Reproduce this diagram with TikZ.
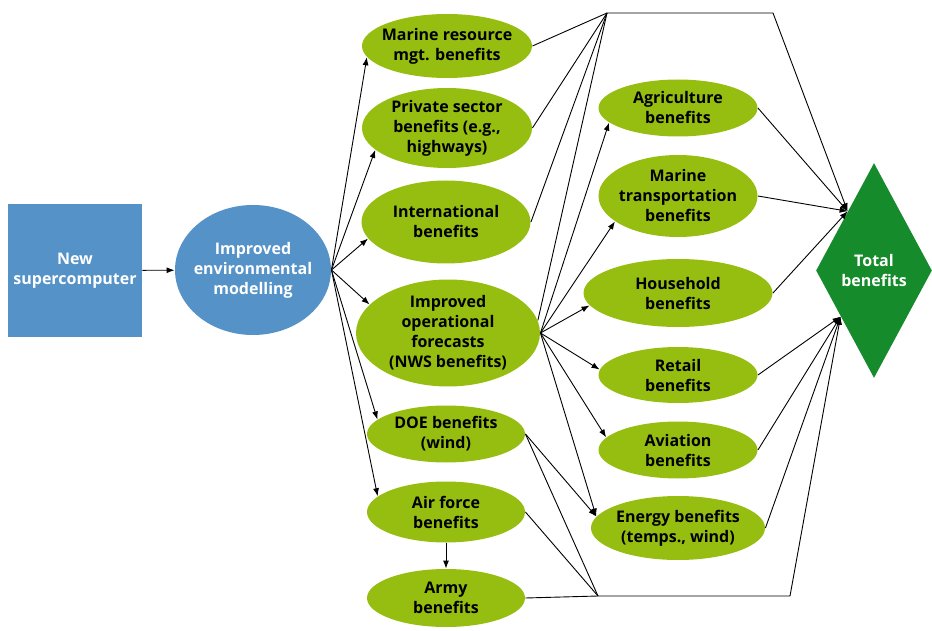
\documentclass[tikz,border=0pt]{standalone}
\usepackage{fontspec}
\setmainfont{Open Sans}
\usetikzlibrary{shapes.geometric,arrows.meta}

\definecolor{boxblue}{RGB}{84,146,200}
\definecolor{limegreen}{RGB}{150,190,16}
\definecolor{darkgreen}{RGB}{22,139,43}

\begin{document}
\begin{tikzpicture}[x=1pt,y=-1pt,
    >={Latex[length=8pt,width=6pt]},
    every path/.style={line width=0.9pt},
    lbl/.style={font=\bfseries\fontsize{16}{20}\selectfont,align=center,inner sep=0pt},
    bluebox/.style={lbl,rectangle,fill=boxblue,text=white},
    oval/.style={ellipse,inner xsep=-12pt,inner ysep=-8pt},
    ben/.style={lbl,oval,fill=limegreen,text=black}]
    \useasboundingbox (0,0) rectangle (932,631);

    % source and model
    \node[bluebox,minimum width=134pt,minimum height=133pt] (comp) at (75,270.5) {New\\supercomputer};
    \node[bluebox,oval,minimum width=156pt,minimum height=130pt] (model) at (253,270) {Improved\\environmental\\modelling};

    % first column
    \node[ben,minimum width=170pt,minimum height=64pt] (mres) at (447,46) {Marine resource\\mgt. benefits};
    \node[ben,minimum width=170pt,minimum height=80pt] (priv) at (447,128) {Private sector\\benefits (e.g.,\\highways)};
    \node[ben,minimum width=169pt,minimum height=83pt] (intl) at (446,222) {International\\benefits};
    \node[ben,minimum width=184pt,minimum height=107pt] (nws) at (448,333) {Improved\\operational\\forecasts\\(NWS benefits)};
    \node[ben,minimum width=158pt,minimum height=57pt] (doe) at (446,434) {DOE benefits\\(wind)};
    \node[ben,minimum width=158pt,minimum height=61pt] (airf) at (446,512) {Air force\\benefits};
    \node[ben,minimum width=158pt,minimum height=58pt] (army) at (446,598) {Army\\benefits};

    % second column
    \node[ben,minimum width=159pt,minimum height=57pt] (agri) at (678,108) {Agriculture\\benefits};
    \node[ben,minimum width=159pt,minimum height=82pt] (mtra) at (678,196) {Marine\\transportation\\benefits};
    \node[ben,minimum width=189pt,minimum height=68pt] (hous) at (678,293) {Household\\benefits};
    \node[ben,minimum width=159pt,minimum height=56pt] (retl) at (678,375) {Retail\\benefits};
    \node[ben,minimum width=159pt,minimum height=57pt] (avia) at (678,450) {Aviation\\benefits};
    \node[ben,minimum width=174pt,minimum height=64pt] (enrg) at (678,528) {Energy benefits\\(temps., wind)};

    % total
    \node[lbl,diamond,fill=darkgreen,text=white,minimum width=116pt,minimum height=215pt] (total) at (874,270.5) {Total\\benefits};

    % junctions
    \coordinate (topj) at (607,13);
    \coordinate (topc) at (773,13);
    \coordinate (botj) at (598,596);
    \coordinate (botc) at (790,596);

    \draw[->] (comp) -- (model);
    \draw[->] (model.east) -- (mres.188);
    \draw[->] (model.east) -- (priv.197);
    \draw[->] (model.east) -- (intl.192);
    \draw[->] (model.east) -- (nws.160);
    \draw[->] (model.east) -- (doe.168);
    \draw[->] (model.east) -- (airf.167);
    \draw[->] (airf) -- (army);

    \draw[->] (nws.east) -- (agri.192);
    \draw[->] (nws.east) -- (mtra.202);
    \draw[->] (nws.east) -- (hous.188);
    \draw[->] (nws.east) -- (retl.176);
    \draw[->] (nws.east) -- (avia.170);
    \draw[->] (nws.east) -- (enrg.172);
    \draw[->] (doe.east) -- (enrg.172);

    % upper collector
    \draw (mres.east) -- (topj);
    \draw (priv.east) -- (topj);
    \draw (intl.east) -- (topj);
    \draw (nws.8) -- (topj);
    \draw[->] (topj) -- (topc) -- (total.114);
    \draw[->] (agri.east) -- (total.114);
    \draw[->] (mtra.east) -- (total.114);
    \draw[->] (hous.east) -- (total.114);

    % lower collector
    \draw (doe.east) -- (botj);
    \draw (airf.east) -- (botj);
    \draw (army.east) -- (botj);
    \draw[->] (botj) -- (botc) -- (total.234);
    \draw[->] (retl.east) -- (total.234);
    \draw[->] (avia.east) -- (total.234);
    \draw[->] (enrg.east) -- (total.234);
\end{tikzpicture}
\end{document}
